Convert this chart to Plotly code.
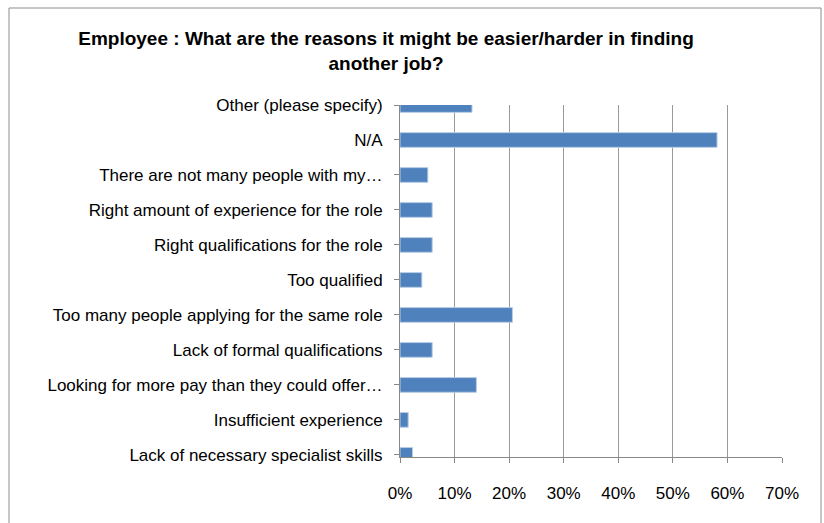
import plotly.graph_objects as go

# Survey answers, listed bottom-to-top as they appear on the axis
categories = [
    "Lack of necessary specialist skills",
    "Insufficient experience",
    "Looking for more pay than they could offer…",
    "Lack of formal qualifications",
    "Too many people applying for the same role",
    "Too qualified",
    "Right qualifications for the role",
    "Right amount of experience for the role",
    "There are not many people with my…",
    "N/A",
    "Other (please specify)",
]
shares = [0.023, 0.015, 0.140, 0.059, 0.206, 0.040, 0.059, 0.059, 0.051, 0.581, 0.132]

x_ticks = [0, 0.1, 0.2, 0.3, 0.4, 0.5, 0.6, 0.7]
x_tick_labels = ["0%", "10%", "20%", "30%", "40%", "50%", "60%", "70%"]

W, H = 824, 523
L, R, T, B = 400, 42, 105, 66
pw, ph = W - L - R, H - T - B

FONT = "Liberation Sans"

fig = go.Figure(
    go.Bar(
        x=shares,
        y=categories,
        orientation="h",
        width=0.42,
        marker=dict(color="#4F81BD", line=dict(color="#B9CDE5", width=1)),
        hoverinfo="x+y",
    )
)

fig.update_layout(
    width=W,
    height=H,
    margin=dict(l=L, r=R, t=T, b=B, pad=0),
    paper_bgcolor="white",
    plot_bgcolor="white",
    showlegend=False,
    font=dict(family=FONT, color="#000000", size=17),
    title=dict(
        text="<b>Employee : What are the reasons it might be easier/harder in finding<br>another job?</b>",
        x=386 / W,
        xanchor="center",
        y=1 - 45 / H,
        yanchor="middle",
        font=dict(family=FONT, size=19, color="#000000"),
    ),
)

fig.update_xaxes(
    range=[0, 0.7],
    tickvals=x_ticks,
    ticktext=x_tick_labels,
    showgrid=True,
    gridcolor="#999999",
    gridwidth=1,
    showline=True,
    linecolor="#888888",
    linewidth=1,
    ticks="outside",
    ticklen=5,
    tickcolor="#888888",
    zeroline=False,
    tickfont=dict(size=17),
    ticklabelstandoff=16,
)

fig.update_yaxes(
    type="category",
    categoryorder="array",
    categoryarray=categories,
    range=[-0.06, 10.0],
    showgrid=False,
    showline=True,
    linecolor="#888888",
    linewidth=1,
    ticks="outside",
    ticklen=5,
    tickcolor="#888888",
    tickfont=dict(size=17),
    ticklabelstandoff=8,
)

# Outer chart frame (bottom edge runs past the page)
fig.add_shape(
    type="rect",
    xref="paper",
    yref="paper",
    x0=(9 - L) / pw,
    x1=(821 - L) / pw,
    y0=(H - B - 540) / ph,
    y1=(H - B - 8) / ph,
    line=dict(color="#8c8c8c", width=1),
    fillcolor="rgba(0,0,0,0)",
    layer="below",
)

fig.write_html("out.html")
